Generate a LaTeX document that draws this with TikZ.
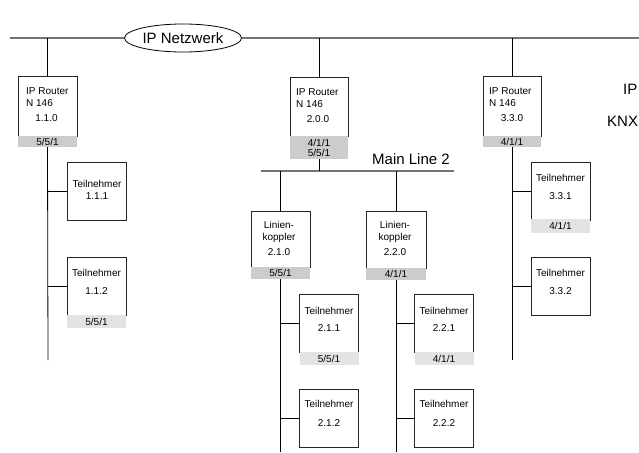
\documentclass[tikz,border=0pt]{standalone}
\usepackage{fontspec}
\setmainfont{Liberation Sans}
\usetikzlibrary{shapes.geometric}
\definecolor{busgray}{gray}{0.45}
\definecolor{barmid}{gray}{0.8}
\definecolor{barlight}{gray}{0.89}
\tikzset{
  small/.style={font=\fontsize{10}{10}\selectfont, inner sep=0pt},
  big/.style={font=\fontsize{15}{15}\selectfont, inner sep=0pt},
  unitbox/.style={draw=black!85, line width=0.9pt, inner sep=0pt, minimum width=59pt, minimum height=58pt},
  midbar/.style={fill=barmid, small, align=center, minimum width=59pt, minimum height=11pt},
  lightbar/.style={fill=barlight, small, minimum width=59pt, minimum height=13pt},
  bus/.style={line width=0.8pt},
  mainbus/.style={draw=busgray, line width=1.6pt},
}
\begin{document}
\begin{tikzpicture}[x=1pt,y=-1pt]
\clip (0,0) rectangle (639,452);
% IP backbone
\node[ellipse, draw, line width=0.8pt, minimum width=117pt, minimum height=28pt, inner sep=0pt, big] (net) at (183,38) {IP Netzwerk};
\coordinate (bb-L) at (10,38);
\coordinate (bb-R) at (639,38);
\draw[mainbus] (bb-L) -- (net.west);
\draw[mainbus] (net.east) -- (bb-R);
\node[big, anchor=west] (lbl-ip) at (623,89) {IP};
\node[big, anchor=west] (lbl-knx) at (607,121) {KNX};

% IP routers
\node[unitbox, minimum height=60pt] (r1) at (47.5,106) {};
\node[small, anchor=west] (r1-type) at (26,91) {IP Router};
\node[small, anchor=west] (r1-art) at (26,103) {N 146};
\node[small] (r1-addr) at (46.5,118) {1.1.0};
\node[midbar] (r1-bar) at (47.5,141.5) {5/5/1};

\node[unitbox, minimum width=58pt, minimum height=59pt] (r2) at (319,106.5) {};
\node[small, anchor=west] (r2-type) at (296,92) {IP Router};
\node[small, anchor=west] (r2-art) at (296,104) {N 146};
\node[small] (r2-addr) at (318,119) {2.0.0};
\node[midbar, minimum width=58pt, minimum height=23pt] (r2-bar) at (319,147.5) {4/1/1\\5/5/1};

\node[unitbox, minimum width=58pt, minimum height=60pt] (r3) at (512,106) {};
\node[small, anchor=west] (r3-type) at (489,91) {IP Router};
\node[small, anchor=west] (r3-art) at (489,103) {N 146};
\node[small] (r3-addr) at (512,118) {3.3.0};
\node[midbar, minimum width=58pt] (r3-bar) at (512,141.5) {4/1/1};

\foreach \r in {r1,r2,r3} \draw[bus] (\r.north) -- (\r.north |- bb-L);

% main line 2
\coordinate (ml-L) at (261,171);
\coordinate (ml-R) at (454,171);
\draw[mainbus, line width=1.2pt] (ml-L) -- (ml-R);
\node[big, anchor=west] (lbl-ml) at (372,159) {Main Line 2};
\draw[bus] (r2-bar.south) -- (r2-bar.south |- ml-L);

% line couplers
\node[unitbox, minimum height=56pt] (lk1) at (280.5,239) {};
\node[small] (lk1-a) at (279,225) {Linien-};
\node[small] (lk1-b) at (279,238) {koppler};
\node[small] (lk1-addr) at (279,252) {2.1.0};
\node[midbar, minimum height=12pt] (lk1-bar) at (280.5,273) {5/5/1};

\node[unitbox, minimum width=60pt, minimum height=57pt] (lk2) at (396,239.5) {};
\node[small] (lk2-a) at (395,225) {Linien-};
\node[small] (lk2-b) at (395,238) {koppler};
\node[small] (lk2-addr) at (395,252) {2.2.0};
\node[midbar, minimum width=60pt, minimum height=12pt] (lk2-bar) at (396,274) {4/1/1};

\foreach \k in {lk1,lk2} \draw[bus] (\k.north) -- (\k.north |- ml-L);

% line ends
\coordinate (r1-end) at (48,360);
\coordinate (r3-end) at (512,360);
\coordinate (lk1-end) at (280.5,452);
\coordinate (lk2-end) at (396,452);
\draw[bus] (r1-bar.south) -- (r1-end);
\draw[bus] (r3-bar.south) -- (r3-end);
\draw[bus] (lk1-bar.south) -- (lk1-end);
\draw[bus] (lk2-bar.south) -- (lk2-end);

% Teilnehmer
\foreach \id/\x/\y/\ty/\addr/\bus in {t111/97/162/22/1.1.1/r1-end, t112/96.5/257/16/1.1.2/r1-end,
  t211/329/294/17/2.1.1/lk1-end, t212/329/389/15/2.1.2/lk1-end,
  t221/444/294/17/2.2.1/lk2-end, t222/444/389/15/2.2.2/lk2-end,
  t331/560.5/162/16/3.3.1/r3-end, t332/560.5/257/16/3.3.2/r3-end} {
  \node[unitbox] (\id) at (\x,\y+29) {};
  \node[small] (\id-name) at (\x,\y+\ty) {Teilnehmer};
  \node[small] (\id-addr) at (\x,\y+34) {\addr};
  \draw[bus] (\id.west) -- (\id.west -| \bus);
}
\node[lightbar] (t112-bar) at (96.5,321.5) {5/5/1};
\node[lightbar] (t211-bar) at (329,358.5) {5/5/1};
\node[lightbar] (t221-bar) at (444,358.5) {4/1/1};
\node[lightbar, minimum height=14pt] (t331-bar) at (560.5,226) {4/1/1};
\end{tikzpicture}
\end{document}
